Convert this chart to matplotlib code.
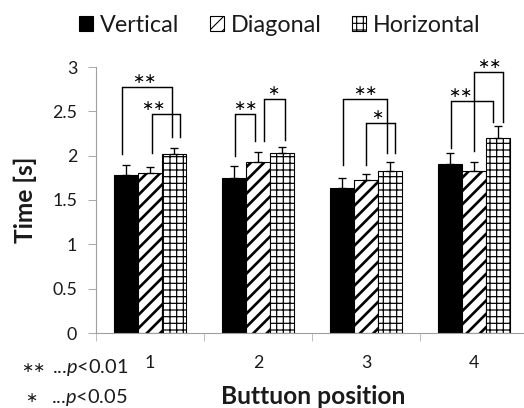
import numpy as np
import matplotlib
matplotlib.use('Agg')
import matplotlib.pyplot as plt

plt.rcParams['font.family'] = ['Lato', 'DejaVu Sans']
plt.rcParams['mathtext.fontset'] = 'custom'
plt.rcParams['mathtext.rm'] = 'Lato'
plt.rcParams['mathtext.it'] = 'Lato:italic'

# data
positions = ['1', '2', '3', '4']
series_names = ['Vertical', 'Diagonal', 'Horizontal']
vertical = [1.78, 1.75, 1.64, 1.91]
diagonal = [1.81, 1.93, 1.72, 1.83]
horizontal = [2.02, 2.03, 1.83, 2.20]
vertical_err = [0.12, 0.13, 0.11, 0.12]
diagonal_err = [0.06, 0.11, 0.07, 0.10]
horizontal_err = [0.07, 0.07, 0.10, 0.13]
yticks = [0, 0.5, 1, 1.5, 2, 2.5, 3]
ytick_labels = ['0', '0.5', '1', '1.5', '2', '2.5', '3']

# significant pairs: (position, bar a, bar b, stars)
sig_pairs = [(0, 0, 2, '**'), (0, 1, 2, '**'),
             (1, 0, 1, '**'), (1, 1, 2, '*'),
             (2, 0, 2, '**'), (2, 1, 2, '*'),
             (3, 0, 2, '**'), (3, 1, 2, '**')]

# bracket drawing: top, left foot, right foot, left shift, right shift, label x
bracket_layout = [(2.77, 2.02, 2.21, -0.037, -0.018, -0.056),
                  (2.47, 2.03, 2.21, 0.019, 0.056, 0.028),
                  (2.47, 2.00, 2.16, 0.009, -0.028, -0.12),
                  (2.64, 2.16, 2.18, 0.056, 0.028, 0.139),
                  (2.64, 1.90, 2.03, 0.009, -0.028, -0.01),
                  (2.37, 1.90, 2.03, 0.0, 0.047, 0.10),
                  (2.62, 2.09, 2.38, 0.009, -0.046, -0.13),
                  (2.94, 2.05, 2.38, 0.0, 0.047, 0.139)]

W, H, DPI = 524, 408, 80
fig = plt.figure(figsize=(W / DPI, H / DPI), dpi=DPI)
ax = fig.add_axes([96 / W, 75 / H, 432 / W, 266 / H])

x = np.arange(len(positions))
bw = 0.222
values = [vertical, diagonal, horizontal]
errs = [vertical_err, diagonal_err, horizontal_err]
fills = ['black', 'white', 'white']
hatches = [None, '//', '++']
hatch_lw = [1.0, 2.4, 1.1]
offsets = [-bw, 0, bw]

handles = []
for i in range(3):
    bars = ax.bar(x + offsets[i], values[i], bw, color=fills[i], edgecolor='black',
                  linewidth=1.0, hatch=hatches[i], label=series_names[i], zorder=2)
    for b in bars:
        if hasattr(b, 'set_hatch_linewidth'):
            b.set_hatch_linewidth(hatch_lw[i])
    handles.append(bars)
    ax.errorbar(x + offsets[i], values[i], yerr=[np.zeros(len(x)), errs[i]],
                fmt='none', ecolor='black', elinewidth=1.2, capsize=4, capthick=1.2, zorder=3)

# significance brackets
for (pos, a, b, stars), (top, fa, fb, sa, sb, lx) in zip(sig_pairs, bracket_layout):
    xa = pos + offsets[a] + sa
    xb = pos + offsets[b] + sb
    ax.plot([xa, xa, xb, xb], [fa, top, top, fb], color='black', lw=1.3,
            clip_on=False, zorder=4, solid_joinstyle='miter')
    ax.annotate(stars.replace('*', '\u2217'), (pos + lx, top), xytext=(0, 1),
                textcoords='offset points', ha='center', va='bottom',
                fontsize=13, family=['DejaVu Sans'], annotation_clip=False)

ax.set_xlim(-0.5, 3.5)
ax.set_ylim(0, 3)
ax.set_yticks(yticks)
ax.set_yticklabels(ytick_labels)
ax.set_xticks(x)
ax.set_xticklabels(positions)
ax.set_xticks(np.arange(-0.5, 3.0, 1.0), minor=True)

for s in ['top', 'right']:
    ax.spines[s].set_visible(False)
for s in ['left', 'bottom']:
    ax.spines[s].set_color('#a0a0a0')
    ax.spines[s].set_linewidth(1.0)

ax.tick_params(axis='y', length=7, color='#a0a0a0', pad=10, labelsize=16, labelcolor='#1a1a1a')
ax.tick_params(axis='x', which='major', length=0, pad=20, labelsize=16, labelcolor='#1a1a1a')
ax.tick_params(axis='x', which='minor', length=7, color='#a0a0a0')

fig.text(25 / W, 1 - 200 / H, 'Time [s]', rotation=90, ha='center', va='center',
         fontsize=22, fontweight='bold', color='#1a1a1a')
fig.text(313 / W, 1 - 397 / H, 'Buttuon position', ha='center', va='center',
         fontsize=22, fontweight='bold', color='#1a1a1a')

# p-value key, bottom left
notes = [('**', '...$p$<0.01', 373, 45), ('*', '...$p$<0.05', 403, 37)]
for stars, txt, base, star_right in notes:
    fig.text(128 / W, 1 - base / H, txt, ha='right', va='baseline',
             fontsize=18, color='#1a1a1a')
    fig.text(star_right / W, 1 - (base - 1) / H, stars.replace('*', '\u2217'),
             ha='right', va='baseline', fontsize=13, family=['DejaVu Sans'],
             color='#1a1a1a')

fig.legend(handles, series_names, loc='center', bbox_to_anchor=(0.534, 1 - 25 / H),
           ncol=3, frameon=False, fontsize=21, handlelength=0.6, handleheight=0.6,
           handletextpad=0.3, columnspacing=1.3, labelcolor='#1a1a1a')

fig.savefig('out.png', dpi=DPI)
